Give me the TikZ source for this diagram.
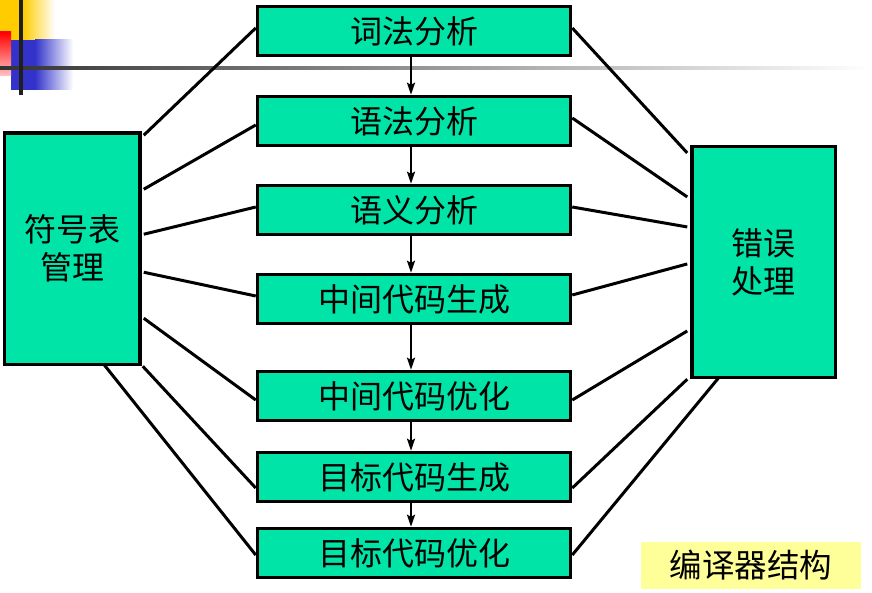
\documentclass[tikz,border=0pt]{standalone}
\usepackage{fontspec}
\newfontfamily\cjk{Noto Sans CJK SC}
\usetikzlibrary{arrows.meta}
\definecolor{boxgreen}{RGB}{0,228,168}
\definecolor{decoyellow}{RGB}{255,204,0}
\definecolor{decoblue}{RGB}{51,51,204}
\definecolor{decored}{RGB}{255,0,0}
\definecolor{decopink}{RGB}{255,196,196}
\definecolor{labelyellow}{RGB}{255,255,153}
\begin{document}
\begin{tikzpicture}[x=1pt,y=-1pt,
  stage/.style={draw=black, line width=3.5pt, fill=boxgreen, minimum width=313pt,
    minimum height=49pt, inner sep=0pt, font=\cjk\fontsize{32}{36}\selectfont},
  sidebox/.style={draw=black, line width=3.5pt, fill=boxgreen, inner sep=0pt,
    align=center, font=\cjk\fontsize{32}{38}\selectfont},
  link/.style={line width=3pt},
  flow/.style={line width=2pt, -{Stealth[length=12pt,width=8pt,inset=2pt]}}]
\useasboundingbox (0,0) rectangle (872,593);
\fill[white] (0,0) rectangle (872,593);

% top-left decoration
\fill[decoyellow] (0,0) rectangle (23,40);
\shade[left color=decoyellow, right color=white] (23,0) rectangle (55,40);
\fill[decoblue] (11,40) rectangle (35,90);
\shade[left color=decoblue, right color=white] (35,40) rectangle (73,90);
\shade[top color=decored, bottom color=decopink] (0,32) rectangle (11,76);
\shade[left color=black!80, middle color=black!28, right color=white] (0,66.5) rectangle (870,69.5);
\fill[black!88] (19,0) rectangle (22.5,95);

% stages
\node[stage] (b1) at (414,31) {词法分析};
\node[stage] (b2) at (414,121) {语法分析};
\node[stage] (b3) at (414,210) {语义分析};
\node[stage] (b4) at (414,299) {中间代码生成};
\node[stage] (b5) at (414,396) {中间代码优化};
\node[stage] (b6) at (414,477) {目标代码生成};
\node[stage] (b7) at (414,553) {目标代码优化};

\node[sidebox, minimum width=135.3pt, minimum height=231.5pt] (L) at (72.35,248.75) {符号表\\管理};
\node[sidebox, minimum width=143.5pt, minimum height=230.8pt] (R) at (763.75,262.1) {错误\\处理};

% flow arrows
\draw[flow] ([xshift=-3pt]b1.south) -- ([xshift=-3pt]b2.north);
\draw[flow] ([xshift=-3pt]b2.south) -- ([xshift=-3pt]b3.north);
\draw[flow] ([xshift=-3pt]b3.south) -- ([xshift=-3pt]b4.north);
\draw[flow] ([xshift=-3pt]b4.south) -- ([xshift=-3pt]b5.north);
\draw[flow] ([xshift=-3pt]b5.south) -- ([xshift=-3pt]b6.north);
\draw[flow] ([xshift=-3pt]b6.south) -- ([xshift=-3pt]b7.north);

% symbol table links
\draw[link] ([xshift=2pt,yshift=-4pt]L.north east) -- ([yshift=3pt]b1.west);
\draw[link] ([xshift=2pt,yshift=-58pt]L.north east) -- ([yshift=-4pt]b2.west);
\draw[link] ([xshift=2pt,yshift=-103pt]L.north east) -- ([yshift=3pt]b3.west);
\draw[link] ([xshift=2pt,yshift=-141pt]L.north east) -- ([yshift=3pt]b4.west);
\draw[link] ([xshift=2pt,yshift=-187pt]L.north east) -- ([yshift=-4pt]b5.west);
\draw[link] ([xshift=1pt]L.south east) -- ([yshift=-11pt]b6.west);
\draw[link] ([xshift=-38pt,yshift=2pt]L.south east) -- ([yshift=-2pt]b7.west);

% error handling links
\draw[link] ([yshift=3pt]b1.east) -- ([xshift=-3pt,yshift=-8pt]R.north west);
\draw[link] ([yshift=3pt]b2.east) -- ([xshift=-3pt,yshift=-52pt]R.north west);
\draw[link] ([yshift=3pt]b3.east) -- ([xshift=-3pt,yshift=-82pt]R.north west);
\draw[link] ([yshift=4pt]b4.east) -- ([xshift=-3pt,yshift=-119pt]R.north west);
\draw[link] ([yshift=-4pt]b5.east) -- ([xshift=-3pt,yshift=-186pt]R.north west);
\draw[link] ([yshift=-11pt]b6.east) -- ([xshift=-3pt]R.south west);
\draw[link] ([yshift=-2pt]b7.east) -- ([xshift=28pt,yshift=1pt]R.south west);

% title label
\node[fill=labelyellow, minimum width=220pt, minimum height=47pt, inner sep=0pt,
  font=\cjk\fontsize{32.5}{36}\selectfont] (T) at (751,565.5) {编译器结构};
\end{tikzpicture}
\end{document}
